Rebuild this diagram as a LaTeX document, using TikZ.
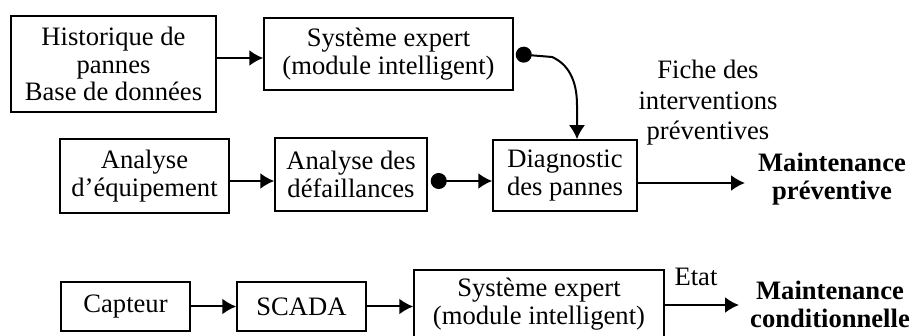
\documentclass[tikz,border=0pt]{standalone}
\usepackage{fontspec}
\setmainfont{Liberation Serif}
\usepackage{tikz}
\usetikzlibrary{arrows.meta, positioning}
\tikzstyle{box} = [rectangle, draw=black, line width=0.75pt, align=center, inner sep=2pt]
\tikzstyle{txt} = [align=center, inner sep=0pt]
\tikzstyle{arrow} = [line width=1pt, -{Latex[length=7pt,width=8pt]}]
\tikzstyle{dotarrow} = [line width=1pt, {Circle[length=8pt]}-{Latex[length=7pt,width=8pt]}]

\begin{document}
\begin{tikzpicture}[x=0.5pt, y=-0.5pt, every node/.style={font=\fontsize{13.3}{13.8}\selectfont}]
				\useasboundingbox (0,0) rectangle (912,336);

				% top part: preventive maintenance
				\node (hist) [box, minimum width=102.5pt, minimum height=48pt] at (113.5,64) {Historique de\\pannes\\Base de donn\'ees};
				\node (se1) [box, minimum width=124.5pt, minimum height=36pt] at (388.5,54) {Syst\`eme expert\\(module intelligent)};
				\node (analeq) [box, minimum width=84.5pt, minimum height=37pt] at (144.5,176) {Analyse\\d'\'equipement};
				\node (analdef) [box, minimum width=76pt, minimum height=36.5pt] at (351,174.5) {Analyse des\\d\'efaillances};
				\node (diag) [box, minimum width=72pt, minimum height=35.5pt] at (565,175.5) {Diagnostic\\des pannes};
				\node (fiche) [txt] at (708,103) {Fiche des\\[1.5pt]interventions\\[1.5pt]pr\'eventives};
				\node (maintprev) [txt, font=\fontsize{13.3}{14}\selectfont\bfseries] at (832,179) {Maintenance\\pr\'eventive};
				\coordinate (prevend) at (745,183);

				\draw [arrow] ([yshift=3pt]hist.east) -- ([yshift=-2pt]se1.west);
				\draw [dotarrow] ([xshift=1pt]se1.east) -- (552,57) .. controls (568,64) and (577,80) .. (577,105) -- ([xshift=6pt]diag.north);
				\draw [arrow] ([yshift=-2.5pt]analeq.east) -- ([yshift=-3.25pt]analdef.west);
				\draw [dotarrow] ([xshift=1.5pt,yshift=-3.25pt]analdef.east) -- ([yshift=-2.75pt]diag.west);
				\draw [arrow] ([yshift=-3.75pt]diag.east) -- (prevend);

				% bottom part: condition-based maintenance
				\node (capteur) [box, minimum width=64.5pt, minimum height=24.5pt] at (125.5,306.5) {Capteur};
				\node (scada) [box, minimum width=64.5pt, minimum height=24.5pt] at (301.5,306.5) {SCADA};
				\node (se2) [box, minimum width=125pt, minimum height=34pt] at (539,304) {Syst\`eme expert\\(module intelligent)};
				\node (etat) [txt] at (696,277) {Etat};
				\node (maintcond) [txt, font=\fontsize{13.3}{14}\selectfont\bfseries] at (830,304) {Maintenance\\conditionnelle};
				\coordinate (condend) at (739,305);

				\draw [arrow] (capteur.east) -- (scada.west);
				\draw [arrow] (scada.east) -- (scada.east -| se2.west);
				\draw [arrow] (se2.east |- condend) -- (condend);

			\end{tikzpicture}
\end{document}
